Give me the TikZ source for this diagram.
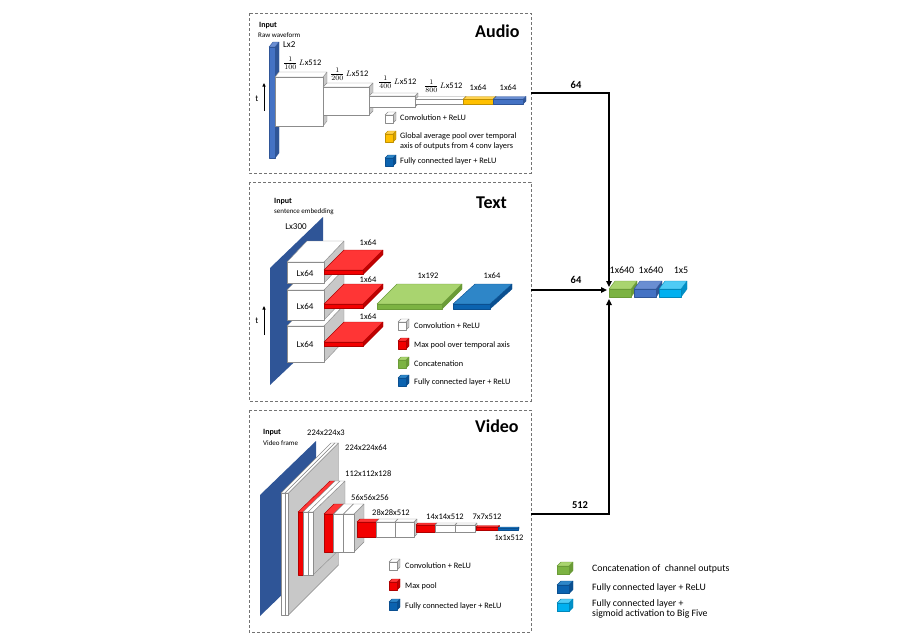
\documentclass[tikz,border=0pt]{standalone}
\usepackage{fontspec}
\setmainfont{Carlito}
\usetikzlibrary{arrows.meta,calc}
% colour schemes: F front, T top, S side, E edge
\definecolor{wF}{HTML}{FFFFFF}\definecolor{wT}{HTML}{FFFFFF}\definecolor{wS}{HTML}{C8C8C8}\definecolor{wE}{HTML}{8C8C8C}
\definecolor{rF}{HTML}{F20000}\definecolor{rT}{HTML}{FF3535}\definecolor{rS}{HTML}{C00000}\definecolor{rE}{HTML}{B00000}
\definecolor{yF}{HTML}{FFC000}\definecolor{yT}{HTML}{FFD24D}\definecolor{yS}{HTML}{D9A300}\definecolor{yE}{HTML}{C09000}
\definecolor{bF}{HTML}{4472C4}\definecolor{bT}{HTML}{6A8ED2}\definecolor{bS}{HTML}{2F5597}\definecolor{bE}{HTML}{2F5597}
\definecolor{tF}{HTML}{0B63B0}\definecolor{tT}{HTML}{2E86C8}\definecolor{tS}{HTML}{0A4F90}\definecolor{tE}{HTML}{0A4F90}
\definecolor{gF}{HTML}{7CB342}\definecolor{gT}{HTML}{A9D46F}\definecolor{gS}{HTML}{6A9B37}\definecolor{gE}{HTML}{6A9B37}
\definecolor{kF}{HTML}{00B0F0}\definecolor{kT}{HTML}{4FCBF5}\definecolor{kS}{HTML}{0090C8}\definecolor{kE}{HTML}{0088BB}
\definecolor{dF}{HTML}{2F5597}
% cuboid: x1 y1 x2 y2 (front face, image coords), dx dy (depth), scheme
\newcommand{\mycube}[7]{%
  \filldraw[draw=#7E,fill=#7S,line width=0.4pt,line join=round] (#3,#2) -- ++(#5,#6) -- ++(0,{#4-#2}) -- (#3,#4) -- cycle;
  \filldraw[draw=#7E,fill=#7T,line width=0.4pt,line join=round] (#1,#2) -- ++(#5,#6) -- ++({#3-#1},0) -- (#3,#2) -- cycle;
  \filldraw[draw=#7E,fill=#7F,line width=0.4pt,line join=round] (#1,#2) rectangle (#3,#4);
}
\newcommand{\myfr}[1]{{\fontsize{10.5}{11}\selectfont$\frac{1}{#1}$}}
\begin{document}
\begin{tikzpicture}[x=1pt,y=-1pt,
  panel/.style={draw=black!55,dash pattern=on 3pt off 2pt,line width=0.8pt},
  ttl/.style={font=\bfseries\fontsize{18}{20}\selectfont,anchor=west,inner sep=0pt},
  inp/.style={font=\bfseries\fontsize{8}{9}\selectfont,anchor=west,inner sep=0pt},
  sub/.style={font=\fontsize{7}{8}\selectfont,anchor=west,inner sep=0pt},
  lbl/.style={font=\fontsize{8.5}{9}\selectfont,inner sep=0pt},
  blbl/.style={font=\fontsize{9}{10}\selectfont,inner sep=0pt},
  leg/.style={font=\fontsize{8.3}{10}\selectfont,anchor=west,inner sep=0pt,align=left},
  bleg/.style={font=\fontsize{9.8}{10.5}\selectfont,anchor=west,inner sep=0pt,align=left},
  num/.style={font=\bfseries\fontsize{10.5}{11}\selectfont,inner sep=0pt},
  flab/.style={font=\fontsize{10}{11}\selectfont,inner sep=0pt},
  flow/.style={line width=1.6pt,-{Triangle[length=6pt,width=5.5pt]}},
  tarr/.style={line width=0.8pt,-{Triangle[length=3.5pt,width=3pt]}},
]
\useasboundingbox (0,0) rectangle (921,638);

%================ AUDIO =================
\draw[panel] (249,13) rectangle (531,173);
\node[ttl] (aTitle) at (475,31) {Audio};
\node[inp] (aIn) at (259,26) {Input};
\node[sub] (aRaw) at (258,35) {Raw waveform};
\mycube{269}{47}{275}{158}{4}{-5}{b}
\node[blbl,anchor=west] (aL2) at (283,45) {Lx2};
\coordinate (at0) at (264,111); \coordinate (at1) at (264,83);
\draw[tarr] (at0) -- (at1);
\node[blbl] (atl) at (257,99) {t};
\mycube{275}{77}{323}{126}{4}{-5}{w}
\mycube{323}{87}{369}{115}{4}{-4}{w}
\mycube{369}{96}{415}{107}{3}{-3}{w}
\mycube{415}{99.5}{463}{104}{3}{-3}{w}
\mycube{463}{99.5}{493}{104}{3}{-3}{y}
\mycube{493}{99.5}{523}{104}{3}{-3}{b}
\node[lbl,anchor=west] (aL100) at (283,63) {\myfr{100}\,$L$x512};
\node[lbl,anchor=west] (aL200) at (330,74) {\myfr{200}\,$L$x512};
\node[lbl,anchor=west] (aL400) at (378,82) {\myfr{400}\,$L$x512};
\node[lbl,anchor=west] (aL800) at (424,86) {\myfr{800}\,$L$x512};
\node[lbl] (a64a) at (478,88) {1x64};
\node[lbl] (a64b) at (508,88) {1x64};
\mycube{385}{115}{393}{123}{3}{-3}{w}
\node[leg] (aLg1) at (400,118) {Convolution + ReLU};
\mycube{385}{134}{393}{142}{3}{-3}{y}
\node[leg] (aLg2) at (400,141) {Global average pool over temporal\\axis of outputs from 4 conv layers};
\mycube{385}{158}{393}{166}{3}{-3}{t}
\node[leg] (aLg3) at (400,161) {Fully connected layer + ReLU};

%================ TEXT =================
\draw[panel] (249,182) rectangle (531,401);
\node[ttl] (tTitle) at (476,203) {Text};
\node[inp] (tIn) at (274,202) {Input};
\node[sub] (tSe) at (274,212) {sentence embedding};
\fill[dF] (270,268) -- (323,217) -- (323,335) -- (270,385) -- cycle;
\node[blbl] (tL300) at (296,227) {Lx300};
\coordinate (tt0) at (264,335); \coordinate (tt1) at (264,306);
\draw[tarr] (tt0) -- (tt1);
\node[blbl] (ttl) at (257,321) {t};
\mycube{287}{326}{324}{362}{20}{-21}{w}
\mycube{324}{342}{363}{346.5}{20}{-20}{r}
\mycube{287}{290}{324}{320}{20}{-21}{w}
\mycube{324}{304}{363}{308.5}{20}{-20}{r}
\mycube{287}{262}{324}{283}{20}{-21}{w}
\mycube{324}{270}{363}{274.5}{20}{-20}{r}
\node[blbl] (tA) at (305,273) {Lx64};
\node[blbl] (tB) at (305,306) {Lx64};
\node[blbl] (tC) at (305,344) {Lx64};
\node[lbl] (t64a) at (368,243) {1x64};
\node[lbl] (t64b) at (368,280) {1x64};
\node[lbl] (t64c) at (368,317) {1x64};
\mycube{377}{304}{442}{309}{20}{-20}{g}
\node[lbl] (t192) at (428,276) {1x192};
\mycube{453}{304}{490}{309}{22}{-20}{t}
\node[lbl] (t64d) at (492,276) {1x64};
\mycube{398}{322}{406}{330}{3}{-3}{w}
\node[leg] (tLg1) at (414,326) {Convolution + ReLU};
\mycube{398}{341}{406}{349}{3}{-3}{r}
\node[leg] (tLg2) at (414,345) {Max pool over temporal axis};
\mycube{398}{360}{406}{368}{3}{-3}{g}
\node[leg] (tLg3) at (414,364) {Concatenation};
\mycube{398}{378}{406}{386}{3}{-3}{t}
\node[leg] (tLg4) at (414,382) {Fully connected layer + ReLU};

%================ VIDEO =================
\draw[panel] (249,410) rectangle (531,632);
\node[ttl] (vTitle) at (475,426) {Video};
\node[inp] (vIn) at (263,433) {Input};
\node[sub] (vVf) at (263,443) {Video frame};
\fill[dF] (260,495) -- (316,441) -- (316,562) -- (260,616) -- cycle;
\node[lbl] (v1) at (326,433) {224x224x3};
\mycube{281}{493}{285}{615}{50}{-50}{w}
\mycube{285}{493}{288.5}{615}{50}{-50}{w}
\node[lbl,anchor=west] (v2) at (345,448) {224x224x64};
\mycube{298}{512}{303}{575}{32}{-31}{r}
\mycube{303}{512}{308}{575}{32}{-31}{w}
\mycube{308}{512}{313}{575}{32}{-31}{w}
\node[lbl,anchor=west] (v3) at (345,474) {112x112x128};
\mycube{324}{514}{333.5}{552}{10}{-10}{r}
\mycube{333.5}{514}{343.5}{552}{10}{-10}{w}
\mycube{343.5}{514}{354}{552}{10}{-10}{w}
\node[lbl,anchor=west] (v4) at (351,498) {56x56x256};
\mycube{357}{522}{376}{537}{3}{-3}{r}
\mycube{376}{522}{395}{537}{3}{-3}{w}
\mycube{395}{522}{414}{537}{3}{-3}{w}
\node[lbl] (v5) at (391,513) {28x28x512};
\mycube{416}{525}{435}{532}{2}{-2}{r}
\mycube{435}{525}{455}{532}{2}{-2}{w}
\mycube{455}{525}{475}{532}{2}{-2}{w}
\node[lbl] (v6) at (445,517) {14x14x512};
\mycube{476}{527}{498}{530.5}{1.5}{-1.5}{r}
\node[lbl] (v7) at (487,517) {7x7x512};
\mycube{498}{528}{518}{530}{1}{-1}{t}
\node[lbl] (v8) at (509,538) {1x1x512};
\mycube{389}{562}{397}{570}{3}{-3}{w}
\node[leg] (vLg1) at (405,566) {Convolution + ReLU};
\mycube{389}{582}{397}{590}{3}{-3}{r}
\node[leg] (vLg2) at (405,586) {Max pool};
\mycube{389}{602}{397}{610}{3}{-3}{t}
\node[leg] (vLg3) at (405,606) {Fully connected layer + ReLU};

%================ FUSION =================
\mycube{609}{289}{631}{297}{6}{-8}{g}
\mycube{634}{289}{656}{297}{6}{-8}{b}
\mycube{659}{289}{681}{297}{6}{-8}{k}
\node[flab] (f1) at (622,270) {1x640};
\node[flab] (f2) at (651,270) {1x640};
\node[flab] (f3) at (681,270) {1x5};
\coordinate (aOut) at (531,93);
\coordinate (tOut) at (531,290);
\coordinate (vOut) at (531,514);
\coordinate (catN) at (609,287);
\coordinate (catW) at (607,290);
\coordinate (catS) at (609,299);
\draw[flow] (aOut) -| (catN);
\draw[flow] (tOut) -- (catW);
\draw[flow] (vOut) -| (catS);
\node[num] (n1) at (576,85) {64};
\node[num] (n2) at (576,280) {64};
\node[num] (n3) at (580,505) {512};

%================ LEGEND =================
\mycube{557}{566}{569}{574.5}{4}{-4}{g}
\node[bleg] (bLg1) at (592,569) {Concatenation of\ \ channel outputs};
\mycube{557}{585}{569}{593.5}{4}{-4}{t}
\node[bleg] (bLg2) at (592,588) {Fully connected layer + ReLU};
\mycube{557}{603}{569}{611.5}{4}{-4}{k}
\node[bleg] (bLg3) at (592,609) {Fully connected layer +\\sigmoid activation to Big Five};
\end{tikzpicture}
\end{document}
